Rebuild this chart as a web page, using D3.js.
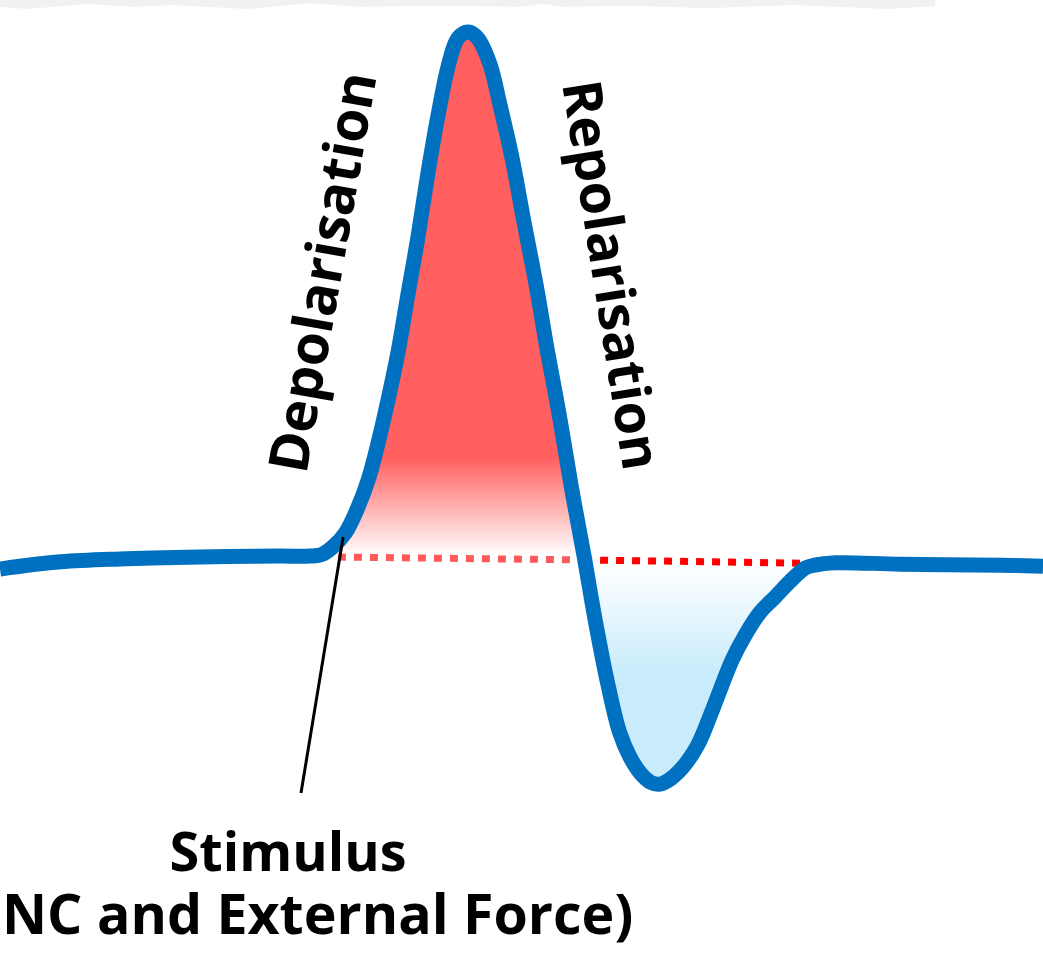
<!DOCTYPE html>
<html>
<head>
<meta charset="utf-8">
<script src="https://cdn.jsdelivr.net/npm/d3@7"></script>
<style>
  html, body { margin: 0; padding: 0; background: #fff; }
  svg { display: block; }
  text { font-family: "Open Sans", "Noto Sans", sans-serif; font-weight: 700; fill: #000; }
</style>
</head>
<body>
<script>
// ---- data (time in ms, membrane potential in mV) ----
const timeMs = [0.00, 0.58, 1.15, 1.92, 2.68, 2.97, 3.09, 3.19, 3.31, 3.42, 3.53, 3.62, 3.72, 3.82, 3.91, 4.01, 4.10, 4.20, 4.30, 4.39, 4.49, 4.58, 4.70, 4.79, 4.91, 5.02, 5.14, 5.25, 5.37, 5.48, 5.60, 5.71, 5.83, 5.94, 6.04, 6.14, 6.23, 6.32, 6.40, 6.54, 6.69, 6.83, 7.02, 7.14, 7.29, 7.43, 7.57, 7.72, 7.81, 8.01, 8.63, 9.59, 10.00];
const voltageMv = [-72.3, -70.8, -70.2, -69.8, -69.6, -69.6, -69.2, -67.7, -64.8, -60.0, -53.7, -46.4, -37.0, -26.5, -15.0, -2.5, 10.1, 22.6, 33.1, 38.7, 40.0, 38.7, 33.1, 25.1, 13.6, 0.7, -12.9, -26.9, -41.1, -55.4, -69.6, -83.4, -96.6, -106.4, -111.6, -115.0, -116.8, -117.3, -116.6, -113.9, -109.1, -101.8, -91.3, -86.3, -81.3, -78.2, -75.0, -72.1, -71.5, -71.0, -71.3, -71.5, -71.7];

// resting level (dotted line) endpoints
const restTime = [3.24, 5.60, 7.72];
const restMv = [-69.8, -70.4, -71.1];

// phase windows (ms)
const depolWindow = [3.02, 5.61];
const hyperWindow = [5.60, 7.76];

// labels
const phaseLabels = ["Depolarisation", "Repolarisation"];
const stimulusLabel = ["Stimulus", "NC and External Force)"];
const stimulusTime = 3.29, stimulusMv = -65.6;

// decorative torn-paper strip at the top (x px, y px)
const stripX = [0, 27, 87, 133, 173, 247, 310, 360, 427, 520, 543, 560, 633, 707, 793, 887, 935];
const stripY = [6.7, 9, 4, 6.7, 5, 9, 3.3, 6.7, 5.7, 6.7, 4, 6.7, 5.7, 8.3, 5, 9, 6];

// ---- drawing ----
const W = 1043, H = 970;
const svg = d3.select("body").append("svg").attr("width", W).attr("height", H);

const x = d3.scaleLinear().domain([0, 10]).range([0, 1043]);
const y = d3.scaleLinear().domain([-70, 40]).range([558, 32]);

const pts = timeMs.map((t, i) => ({ t, v: voltageMv[i] }));

// top strip
const stripPts = [[0, 0]].concat(stripX.map((px, i) => [px, stripY[i]])).concat([[935, 0]]);
svg.append("path")
  .attr("d", d3.line().curve(d3.curveLinear)(stripPts) + "Z")
  .attr("fill", "#f2f0f0");

const defs = svg.append("defs");
const gRed = defs.append("linearGradient").attr("id", "gRed")
  .attr("gradientUnits", "userSpaceOnUse").attr("x1", 0).attr("x2", 0)
  .attr("y1", y(-49)).attr("y2", y(-69.5));
gRed.append("stop").attr("offset", 0).attr("stop-color", "#ff5f5f");
gRed.append("stop").attr("offset", 1).attr("stop-color", "#ffffff");

const gBlue = defs.append("linearGradient").attr("id", "gBlue")
  .attr("gradientUnits", "userSpaceOnUse").attr("x1", 0).attr("x2", 0)
  .attr("y1", y(-71)).attr("y2", y(-94));
gBlue.append("stop").attr("offset", 0).attr("stop-color", "#ffffff");
gBlue.append("stop").attr("offset", 1).attr("stop-color", "#c8ecfb");

defs.append("clipPath").attr("id", "clipRed").append("rect")
  .attr("x", x(depolWindow[0])).attr("y", 0)
  .attr("width", x(depolWindow[1]) - x(depolWindow[0])).attr("height", y(-70));
defs.append("clipPath").attr("id", "clipBlue").append("rect")
  .attr("x", x(hyperWindow[0])).attr("y", y(-70))
  .attr("width", x(hyperWindow[1]) - x(hyperWindow[0])).attr("height", H);

const curve = d3.curveCatmullRom.alpha(0.5);
const areaRed = d3.area().curve(curve).x(d => x(d.t)).y0(y(-70)).y1(d => y(d.v));
const areaBlue = d3.area().curve(curve).x(d => x(d.t)).y0(y(-70.6)).y1(d => y(d.v));

svg.append("path").attr("d", areaRed(pts)).attr("fill", "url(#gRed)").attr("clip-path", "url(#clipRed)");
svg.append("path").attr("d", areaBlue(pts)).attr("fill", "url(#gBlue)").attr("clip-path", "url(#clipBlue)");

// dotted resting line (two tones)
const restColors = ["#ff5a5a", "#ff0000"];
for (let i = 0; i < 2; i++) {
  svg.append("line")
    .attr("x1", x(restTime[i])).attr("y1", y(restMv[i]))
    .attr("x2", x(restTime[i + 1])).attr("y2", y(restMv[i + 1]))
    .attr("stroke", restColors[i]).attr("stroke-width", 7)
    .attr("stroke-dasharray", "8,8");
}

// main action potential line
const line = d3.line().curve(curve).x(d => x(d.t)).y(d => y(d.v));
svg.append("path").attr("d", line(pts))
  .attr("fill", "none").attr("stroke", "#0070c0").attr("stroke-width", 15)
  .attr("stroke-linejoin", "round").attr("stroke-linecap", "butt");

// stimulus pointer
svg.append("line")
  .attr("x1", x(stimulusTime)).attr("y1", y(stimulusMv))
  .attr("x2", 301).attr("y2", 793)
  .attr("stroke", "#000").attr("stroke-width", 3);

// phase labels
svg.append("text").text(phaseLabels[0])
  .attr("transform", "translate(322,272) rotate(-80)")
  .attr("text-anchor", "middle").attr("dy", "0.36em")
  .attr("font-size", 55);
svg.append("text").text(phaseLabels[1])
  .attr("transform", "translate(612,275) rotate(81)")
  .attr("text-anchor", "middle").attr("dy", "0.36em")
  .attr("font-size", 54);

// stimulus text (one block, two lines)
const st = svg.append("text");
st.append("tspan").text(stimulusLabel[0])
  .attr("x", 288).attr("y", 871).attr("text-anchor", "middle").attr("font-size", 54);
st.append("tspan").text(stimulusLabel[1])
  .attr("x", 2).attr("y", 934).attr("text-anchor", "start").attr("font-size", 55.5);
</script>
</body>
</html>
